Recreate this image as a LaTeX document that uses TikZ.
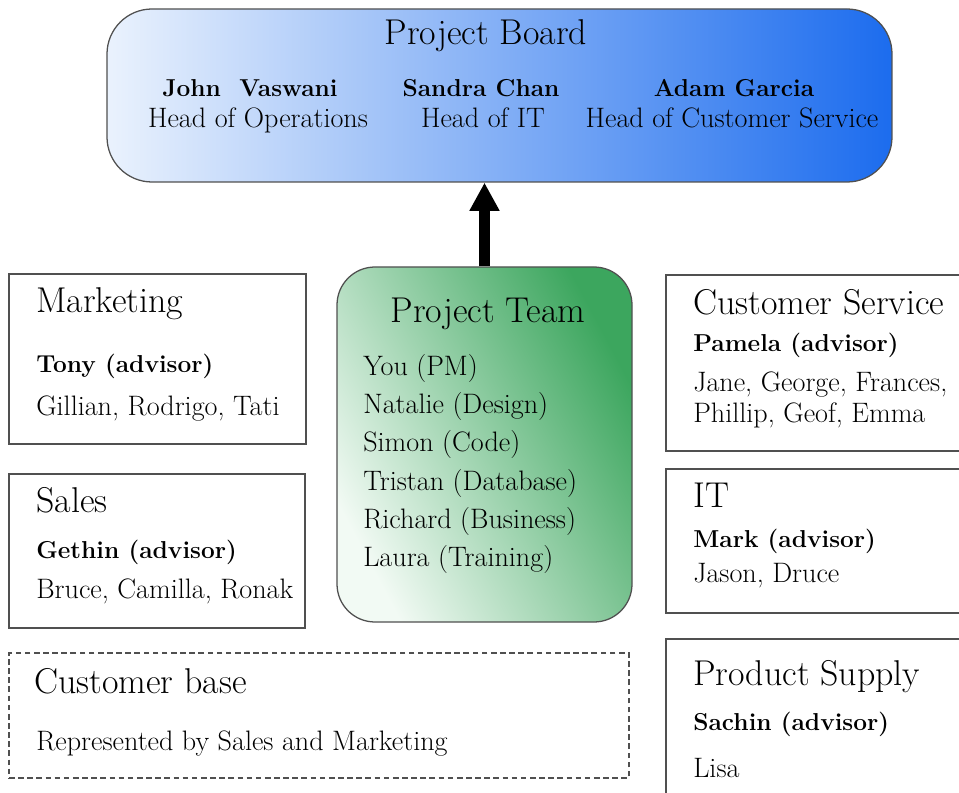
\documentclass[tikz,border=0pt]{standalone}
\usetikzlibrary{arrows.meta,fit}
\definecolor{boardlight}{RGB}{234,242,253}
\definecolor{boarddark}{RGB}{28,108,238}
\definecolor{teamlight}{RGB}{242,250,244}
\definecolor{teamdark}{RGB}{60,166,94}
\definecolor{frame}{RGB}{80,80,80}
\begin{document}
\begin{tikzpicture}[x=0.025cm,y=-0.025cm,
	box/.style={draw=frame,line width=0.9pt,inner sep=0},
	dashbox/.style={box,dash pattern=on 4pt off 2.5pt},
	head/.style={anchor=base west,inner sep=0,font=\fontsize{25.5}{30}\selectfont},
	lead/.style={anchor=base west,inner sep=0,font=\fontsize{17.4}{20}\selectfont\bfseries},
	member/.style={anchor=base west,inner sep=0,font=\fontsize{20}{24}\selectfont},
	bigarrow/.style={-{Triangle[length=20pt,width=20pt]},line width=8.5pt}]
	\useasboundingbox (0,0) rectangle (959,793);
	\clip (0,0) rectangle (959,793);

	\node[box,fit={(107,9) (892,182)},rounded corners=32pt,left color=boardlight,right color=boarddark] (board) {};
	\node[head,anchor=base] (boardtitle) at (486,45) {Project Board};
	\node[lead,anchor=base] (ops) at (250,97) {John\ \ Vaswani};
	\node[member,anchor=base] (opsrole) at (258,128) {Head of Operations};
	\node[lead,anchor=base] (it) at (481,97) {Sandra Chan};
	\node[member,anchor=base] (itrole) at (483,128) {Head of IT};
	\node[lead,anchor=base] (cs) at (734,97) {Adam Garcia};
	\node[member,anchor=base] (csrole) at (732,128) {Head of Customer Service};

	\node[box,fit={(337,267) (632,622)},rounded corners=27pt,top color=teamdark,bottom color=teamlight,shading angle=-62] (team) {};
	\node[head,anchor=base] (teamtitle) at (488,323) {Project Team};
	\foreach \name [count=\i] in {You (PM),Natalie (Design),Simon (Code),Tristan (Database),Richard (Business),Laura (Training)}
		\node[member] (m\i) at (363,{337+38.3*\i}) {\name};

	\draw[bigarrow] (team.north) -- (team.north |- board.south);

	\node[box,fit={(9,274) (306,444)}] (mkt) {};
	\node[head] (mkttitle) at (36,313) {Marketing};
	\node[lead] (mktlead) at (36,372) {Tony (advisor)};
	\node[member] (mktstaff) at (36,415) {Gillian, Rodrigo, Tati};

	\node[box,fit={(9,474) (305,628)}] (sales) {};
	\node[head] (salestitle) at (36,512) {Sales};
	\node[lead] (saleslead) at (36,558) {Gethin (advisor)};
	\node[member] (salesstaff) at (36,598) {Bruce, Camilla, Ronak};

	\node[dashbox,fit={(9,653) (629,778)}] (base) {};
	\node[head] (basetitle) at (34,693) {Customer base};
	\node[member] (basetext) at (36,750) {Represented by Sales and Marketing};

	\node[box,fit={(666,275) (990,451)}] (service) {};
	\node[head] (servicetitle) at (693,315) {Customer Service};
	\node[lead] (servicelead) at (693,352) {Pamela (advisor)};
	\node[member] (servicestaffa) at (693,392) {Jane, George, Frances,};
	\node[member] (servicestaffb) at (693,422) {Phillip, Geof, Emma};

	\node[box,fit={(666,469) (990,613)}] (itdept) {};
	\node[head] (ittitle) at (693,507) {IT};
	\node[lead] (itlead) at (693,547) {Mark (advisor)};
	\node[member] (itstaff) at (693,582) {Jason, Druce};

	\node[box,fit={(666,639) (990,820)}] (supply) {};
	\node[head] (supplytitle) at (693,685) {Product Supply};
	\node[lead] (supplylead) at (693,730) {Sachin (advisor)};
	\node[member] (supplystaff) at (693,777) {Lisa};
\end{tikzpicture}
\end{document}
